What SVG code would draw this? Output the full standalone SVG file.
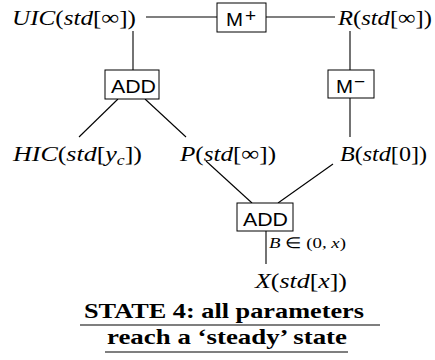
<svg xmlns="http://www.w3.org/2000/svg" width="435" height="360" viewBox="0 0 435 360">
  <style>
    .math { font-family: "Liberation Serif", "DejaVu Serif", serif; font-size: 22px; fill: #000; }
    .it { font-style: italic; }
    .box rect { fill: #fff; stroke: #000; stroke-width: 1; }
    .box text { font-family: "Liberation Sans", Arial, sans-serif; font-size: 19px; fill: #000; }
    .lbl { font-family: "Liberation Serif", serif; font-size: 15px; fill: #000; }
    .title { font-family: "Liberation Serif", serif; font-weight: bold; font-size: 21px; fill: #000; }
    .rule { stroke: #000; stroke-width: 1.2; }
    #connectors line { stroke: #000; stroke-width: 1.1; }
  </style>
  <rect width="435" height="360" fill="#fff"/>

  <g id="connectors">
    <line x1="146" y1="17" x2="217" y2="17"/>
    <line x1="266" y1="17" x2="335" y2="17"/>
    <line x1="133" y1="31" x2="133" y2="70"/>
    <line x1="350" y1="31" x2="350" y2="70"/>
    <line x1="350" y1="98" x2="350" y2="137"/>
    <line x1="118" y1="99" x2="79" y2="137"/>
    <line x1="145" y1="99" x2="186" y2="137"/>
    <line x1="206" y1="161" x2="252" y2="203"/>
    <line x1="333" y1="164" x2="278" y2="203"/>
    <line x1="266" y1="231" x2="266" y2="264"/>
  </g>

  <g id="UIC">
    <text class="math" x="12" y="25" textLength="124" lengthAdjust="spacingAndGlyphs"><tspan class="it">UIC</tspan>(<tspan class="it">std</tspan>[∞])</text>
  </g>
  <g id="Mplus" class="box">
    <rect x="217" y="3" width="49" height="29"/>
    <text x="226" y="26" textLength="17" lengthAdjust="spacingAndGlyphs">M</text>
    <text x="245" y="22" font-size="17">+</text>
  </g>
  <g id="R">
    <text class="math" x="338" y="25" textLength="94" lengthAdjust="spacingAndGlyphs"><tspan class="it">R</tspan>(<tspan class="it">std</tspan>[∞])</text>
  </g>
  <g id="ADD1" class="box">
    <rect x="105" y="70" width="54" height="29"/>
    <text x="111" y="93" textLength="45" lengthAdjust="spacingAndGlyphs">ADD</text>
  </g>
  <g id="Mminus" class="box">
    <rect x="328" y="70" width="46" height="28"/>
    <text x="336" y="93" textLength="17" lengthAdjust="spacingAndGlyphs">M</text>
    <text x="354" y="88" font-size="17">−</text>
  </g>
  <g id="HIC">
    <text class="math" x="13" y="161" textLength="129" lengthAdjust="spacingAndGlyphs"><tspan class="it">HIC</tspan>(<tspan class="it">std</tspan>[<tspan class="it">y</tspan><tspan class="it" font-size="15" dy="4">c</tspan><tspan dy="-4">])</tspan></text>
  </g>
  <g id="P">
    <text class="math" x="180" y="161" textLength="96" lengthAdjust="spacingAndGlyphs"><tspan class="it">P</tspan>(<tspan class="it">std</tspan>[∞])</text>
  </g>
  <g id="B">
    <text class="math" x="340" y="161" textLength="87" lengthAdjust="spacingAndGlyphs"><tspan class="it">B</tspan>(<tspan class="it">std</tspan>[0])</text>
  </g>
  <g id="ADD2" class="box">
    <rect x="237" y="203" width="56" height="28"/>
    <text x="243" y="226" textLength="45" lengthAdjust="spacingAndGlyphs">ADD</text>
  </g>
  <g id="cond">
    <text class="lbl" x="269" y="248" textLength="77" lengthAdjust="spacingAndGlyphs"><tspan font-style="italic">B</tspan> ∈ (0, <tspan font-style="italic">x</tspan>)</text>
  </g>
  <g id="X">
    <text class="math" x="255" y="288" textLength="92" lengthAdjust="spacingAndGlyphs"><tspan class="it">X</tspan>(<tspan class="it">std</tspan>[<tspan class="it">x</tspan>])</text>
  </g>

  <g id="caption">
    <text class="title" x="84" y="318" textLength="280" lengthAdjust="spacingAndGlyphs">STATE 4: all parameters</text>
    <line class="rule" x1="80" y1="325" x2="380" y2="325"/>
    <text class="title" x="107" y="344" textLength="240" lengthAdjust="spacingAndGlyphs">reach a ‘steady’ state</text>
    <line class="rule" x1="105" y1="352" x2="348" y2="352"/>
  </g>
</svg>
